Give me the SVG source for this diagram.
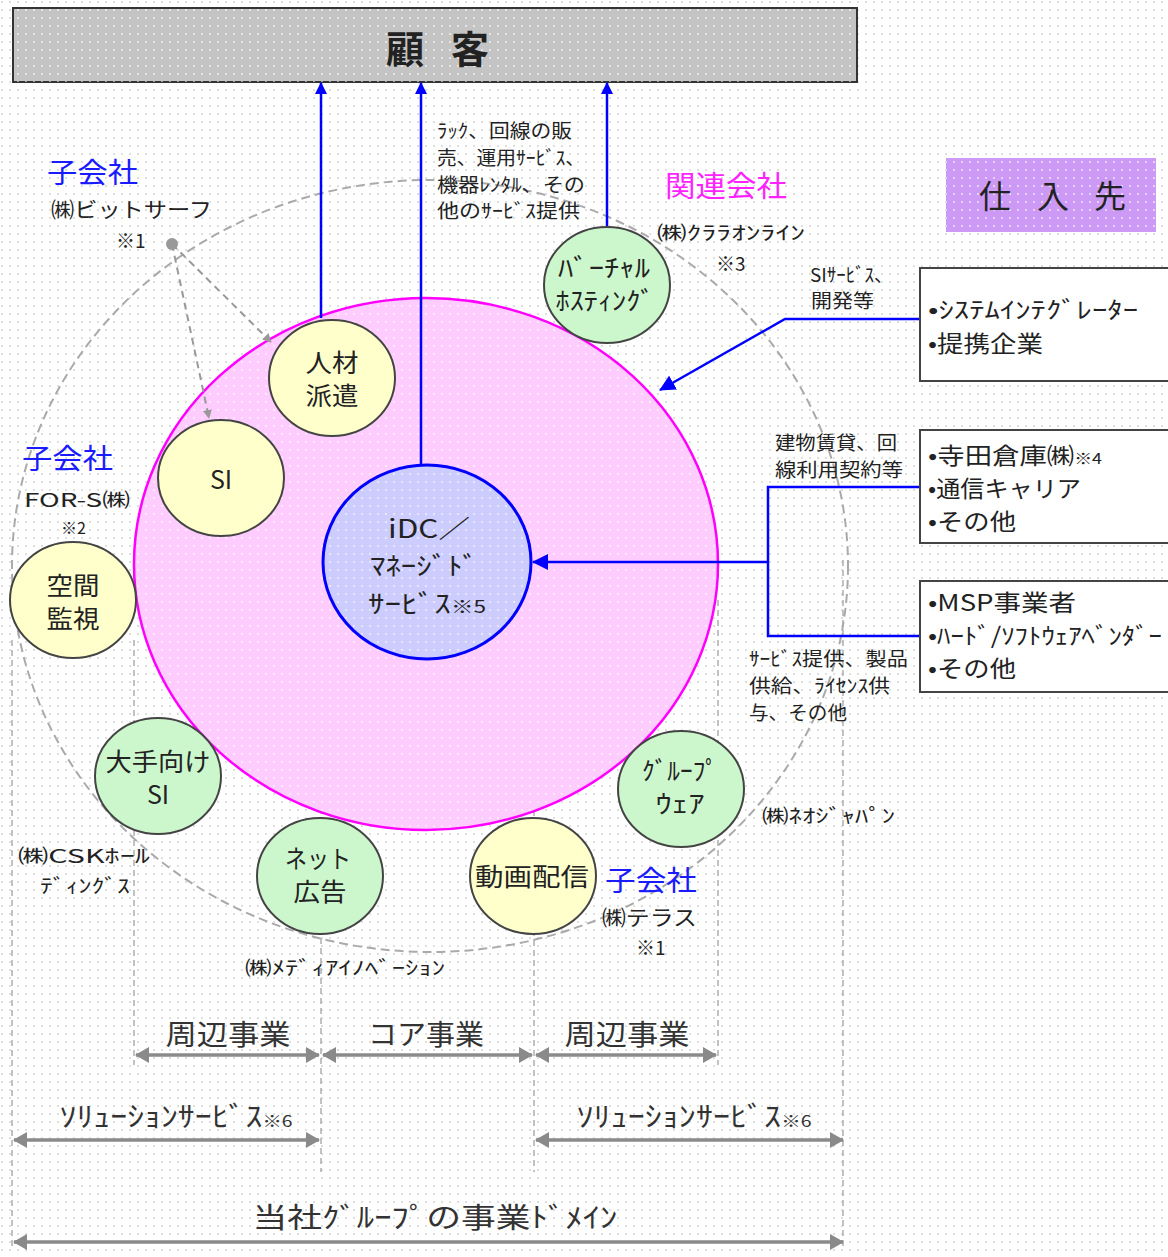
<svg xmlns="http://www.w3.org/2000/svg" width="1168" height="1257" viewBox="0 0 1168 1257">
<defs>
<pattern id="dots" width="8" height="8" patternUnits="userSpaceOnUse"><circle cx="2" cy="2" r="0.9" fill="#cfcfcf"/></pattern>
<pattern id="wdots" width="8" height="8" patternUnits="userSpaceOnUse"><circle cx="2" cy="2" r="0.9" fill="#ffffff" fill-opacity="0.8"/></pattern>
<marker id="ab" viewBox="0 0 12 12" refX="11" refY="6" markerWidth="12" markerHeight="12" markerUnits="userSpaceOnUse" orient="auto"><path d="M0,0 L12,6 L0,12 z" fill="#0000ff"/></marker>
<marker id="ab2" viewBox="0 0 16 16" refX="15" refY="8" markerWidth="16" markerHeight="16" markerUnits="userSpaceOnUse" orient="auto"><path d="M0,0 L16,8 L0,16 z" fill="#0000ff"/></marker>
<marker id="ag" viewBox="0 0 10 10" refX="9" refY="5" markerWidth="9" markerHeight="9" markerUnits="userSpaceOnUse" orient="auto"><path d="M0,0 L10,5 L0,10 z" fill="#999"/></marker>
<marker id="gh" viewBox="0 0 14 16" refX="13" refY="8" markerWidth="14" markerHeight="16" markerUnits="userSpaceOnUse" orient="auto-start-reverse"><path d="M0,0 L14,8 L0,16 z" fill="#8a8a8a"/></marker>
</defs>
<style>
.t{font-family:"Noto Sans CJK JP","Noto Sans",sans-serif;fill:#222}
.s{font-size:19px}
.c{font-size:25px;text-anchor:middle}
.b{font-size:23px}
.blue{fill:#1a1aff;font-size:28px}
.mag{fill:#ff22ff;font-size:29px}
.bot{font-size:28px;text-anchor:middle;fill:#333}
.yel{fill:#ffffcc;stroke:#444;stroke-width:2}
.grn{fill:#ccf7cc;stroke:#444;stroke-width:2}
.vd{stroke:#9a9a9a;stroke-width:1.2;stroke-dasharray:6 4;fill:none}
.bl{stroke:#0000ff;stroke-width:2.5;fill:none}
.ga{stroke:#8a8a8a;stroke-width:3.5;fill:none;marker-start:url(#gh);marker-end:url(#gh)}
.box{fill:#ffffff;stroke:#444;stroke-width:2}
</style>
<rect width="1168" height="1257" fill="#ffffff"/>
<rect width="1168" height="1257" fill="url(#dots)"/>

<g id="guides">
<line class="vd" x1="12" y1="640" x2="12" y2="1250"/>
<line class="vd" x1="134" y1="640" x2="134" y2="1065"/>
<line class="vd" x1="321" y1="578" x2="321" y2="1172"/>
<line class="vd" x1="534" y1="580" x2="534" y2="1172"/>
<line class="vd" x1="718" y1="600" x2="718" y2="1065"/>
<line class="vd" x1="843" y1="560" x2="843" y2="1250"/>
<ellipse cx="430" cy="566" rx="418" ry="386" fill="none" stroke="#aaaaaa" stroke-width="2" stroke-dasharray="9 5"/>
</g>

<g id="customer">
<rect x="13" y="8" width="844" height="74" fill="#c4c4c4" stroke="#333" stroke-width="2"/>
<rect x="13" y="8" width="844" height="74" fill="url(#wdots)"/>
<text class="t" x="405" y="63" font-size="38" font-weight="bold" text-anchor="middle" fill="#111">顧</text>
<text class="t" x="470" y="63" font-size="38" font-weight="bold" text-anchor="middle" fill="#111">客</text>
</g>

<g id="domain">
<ellipse cx="426" cy="564" rx="292" ry="266" fill="#ffccff" stroke="#ff00ff" stroke-width="2.5"/>
<ellipse cx="426" cy="564" rx="290" ry="264" fill="url(#wdots)"/>
</g>

<g id="connectors">
<line class="bl" x1="321" y1="318" x2="321" y2="83" marker-end="url(#ab)"/>
<line class="bl" x1="421" y1="465" x2="421" y2="83" marker-end="url(#ab)"/>
<line class="bl" x1="607" y1="226" x2="607" y2="83" marker-end="url(#ab)"/>
<polyline class="bl" points="920,319 785,319 660,390" marker-end="url(#ab2)"/>
<polyline class="bl" points="920,487 768,487 768,636 920,636"/>
<line class="bl" x1="768" y1="562" x2="533" y2="562" marker-end="url(#ab2)"/>
<line x1="172" y1="244" x2="271" y2="342" stroke="#999" stroke-width="2" stroke-dasharray="7 5" marker-end="url(#ag)"/>
<line x1="172" y1="244" x2="209" y2="418" stroke="#999" stroke-width="2" stroke-dasharray="7 5" marker-end="url(#ag)"/>
<circle cx="172" cy="244" r="6" fill="#999"/>
</g>

<g id="n-jinzai"><ellipse class="yel" cx="332" cy="378" rx="63" ry="58"/><text class="t c" x="332" y="372" textLength="53" lengthAdjust="spacingAndGlyphs">人材</text><text class="t c" x="332" y="405" textLength="53" lengthAdjust="spacingAndGlyphs">派遣</text></g>
<g id="n-si"><ellipse class="yel" cx="221" cy="478" rx="63" ry="58"/><text class="t c" x="221" y="489" font-size="24">SI</text></g>
<g id="n-idc"><ellipse cx="427" cy="562" rx="104" ry="97" fill="#ccccff" stroke="#0000ff" stroke-width="3"/><ellipse cx="427" cy="562" rx="102" ry="95" fill="url(#wdots)"/>
<text class="t c" x="429" y="538" textLength="82" lengthAdjust="spacingAndGlyphs">iDC／</text><text class="t c" x="424" y="575" textLength="108" lengthAdjust="spacingAndGlyphs">ﾏﾈｰｼﾞﾄﾞ</text><text class="t c" x="427" y="613" textLength="118" lengthAdjust="spacingAndGlyphs">ｻｰﾋﾞｽ<tspan font-size="17">※5</tspan></text></g>
<g id="n-virtual"><ellipse class="grn" cx="607" cy="285" rx="63" ry="58"/><text class="t c" x="604" y="277" textLength="92" lengthAdjust="spacingAndGlyphs">ﾊﾞｰﾁｬﾙ</text><text class="t c" x="605" y="310" textLength="99" lengthAdjust="spacingAndGlyphs">ﾎｽﾃｨﾝｸﾞ</text></g>
<g id="n-kukan"><ellipse class="yel" cx="73" cy="600" rx="63" ry="58"/><text class="t c" x="73" y="595" textLength="53" lengthAdjust="spacingAndGlyphs">空間</text><text class="t c" x="73" y="628" textLength="53" lengthAdjust="spacingAndGlyphs">監視</text></g>
<g id="n-ootesi"><ellipse class="grn" cx="158" cy="776" rx="63" ry="58"/><text class="t c" x="158" y="771" textLength="105" lengthAdjust="spacingAndGlyphs">大手向け</text><text class="t c" x="158" y="804" font-size="24">SI</text></g>
<g id="n-net"><ellipse class="grn" cx="320" cy="876" rx="63" ry="58"/><text class="t c" x="318" y="868" textLength="66" lengthAdjust="spacingAndGlyphs">ネット</text><text class="t c" x="320" y="901" textLength="53" lengthAdjust="spacingAndGlyphs">広告</text></g>
<g id="n-douga"><ellipse class="yel" cx="533" cy="876" rx="63" ry="58"/><text class="t c" x="532" y="886" textLength="114" lengthAdjust="spacingAndGlyphs">動画配信</text></g>
<g id="n-group"><ellipse class="grn" cx="681" cy="789" rx="63" ry="58"/><text class="t c" x="680" y="780" textLength="76" lengthAdjust="spacingAndGlyphs">ｸﾞﾙｰﾌﾟ</text><text class="t c" x="680" y="813" textLength="49" lengthAdjust="spacingAndGlyphs">ｳｪｱ</text></g>

<g id="suppliers-title"><rect x="946" y="158" width="210" height="74" fill="#cc99f5"/><rect x="946" y="158" width="210" height="74" fill="url(#wdots)"/>
<text class="t" x="995" y="208" font-size="32" text-anchor="middle" fill="#111">仕</text><text class="t" x="1053" y="208" font-size="32" text-anchor="middle" fill="#111">入</text><text class="t" x="1110" y="208" font-size="32" text-anchor="middle" fill="#111">先</text></g>
<g id="s-si"><rect class="box" x="920" y="268" width="252" height="113"/><text class="t b" x="928" y="318" textLength="210" lengthAdjust="spacingAndGlyphs">•ｼｽﾃﾑｲﾝﾃｸﾞﾚｰﾀｰ</text><text class="t b" x="928" y="352" textLength="115" lengthAdjust="spacingAndGlyphs">•提携企業</text></g>
<g id="s-terada"><rect class="box" x="920" y="430" width="252" height="113"/><text class="t b" x="928" y="464" textLength="174" lengthAdjust="spacingAndGlyphs">•寺田倉庫㈱<tspan font-size="15">※4</tspan></text><text class="t b" x="928" y="497" textLength="153" lengthAdjust="spacingAndGlyphs">•通信キャリア</text><text class="t b" x="928" y="530" textLength="88" lengthAdjust="spacingAndGlyphs">•その他</text></g>
<g id="s-msp"><rect class="box" x="920" y="581" width="252" height="111"/><text class="t b" x="928" y="611" textLength="148" lengthAdjust="spacingAndGlyphs">•MSP事業者</text><text class="t b" x="928" y="644" textLength="234" lengthAdjust="spacingAndGlyphs">•ﾊｰﾄﾞ/ｿﾌﾄｳｪｱﾍﾞﾝﾀﾞｰ</text><text class="t b" x="928" y="677" textLength="88" lengthAdjust="spacingAndGlyphs">•その他</text></g>

<g id="labels">
<text class="t s" x="437" y="138" textLength="135" lengthAdjust="spacingAndGlyphs">ﾗｯｸ、回線の販</text>
<text class="t s" x="437" y="165" textLength="148" lengthAdjust="spacingAndGlyphs">売、運用ｻｰﾋﾞｽ、</text>
<text class="t s" x="437" y="192" textLength="148" lengthAdjust="spacingAndGlyphs">機器ﾚﾝﾀﾙ、その</text>
<text class="t s" x="437" y="218" textLength="143" lengthAdjust="spacingAndGlyphs">他のｻｰﾋﾞｽ提供</text>
<text class="t blue" x="47" y="183" textLength="91" lengthAdjust="spacingAndGlyphs">子会社</text>
<text class="t" x="51" y="217" font-size="21" textLength="161" lengthAdjust="spacingAndGlyphs">㈱ビットサーフ</text>
<text class="t s" x="116" y="248">※1</text>
<text class="t mag" x="665" y="197" textLength="122" lengthAdjust="spacingAndGlyphs">関連会社</text>
<text class="t s" x="657" y="240" textLength="148" lengthAdjust="spacingAndGlyphs">㈱ｸﾗﾗｵﾝﾗｲﾝ</text>
<text class="t s" x="716" y="271">※3</text>
<text class="t s" x="810" y="282" textLength="83" lengthAdjust="spacingAndGlyphs">SIｻｰﾋﾞｽ、</text>
<text class="t s" x="811" y="308" textLength="63" lengthAdjust="spacingAndGlyphs">開発等</text>
<text class="t s" x="775" y="450" textLength="122" lengthAdjust="spacingAndGlyphs">建物賃貸、回</text>
<text class="t s" x="775" y="477" textLength="128" lengthAdjust="spacingAndGlyphs">線利用契約等</text>
<text class="t s" x="749" y="666" textLength="159" lengthAdjust="spacingAndGlyphs">ｻｰﾋﾞｽ提供、製品</text>
<text class="t s" x="749" y="693" textLength="141" lengthAdjust="spacingAndGlyphs">供給、ﾗｲｾﾝｽ供</text>
<text class="t s" x="749" y="720" textLength="98" lengthAdjust="spacingAndGlyphs">与、その他</text>
<text class="t blue" x="22" y="469" textLength="91" lengthAdjust="spacingAndGlyphs">子会社</text>
<text class="t" x="24" y="507" font-size="19" textLength="106" lengthAdjust="spacingAndGlyphs">FOR-S㈱</text>
<text class="t" x="61" y="534" font-size="16">※2</text>
<text class="t s" x="18" y="863" textLength="132" lengthAdjust="spacingAndGlyphs">㈱CSKﾎｰﾙ</text>
<text class="t s" x="40" y="893" textLength="90" lengthAdjust="spacingAndGlyphs">ﾃﾞｨﾝｸﾞｽ</text>
<text class="t s" x="245" y="975" textLength="200" lengthAdjust="spacingAndGlyphs">㈱ﾒﾃﾞｨｱｲﾉﾍﾞｰｼｮﾝ</text>
<text class="t s" x="762" y="823" textLength="133" lengthAdjust="spacingAndGlyphs">㈱ﾈｵｼﾞｬﾊﾟﾝ</text>
<text class="t blue" x="605" y="891" textLength="92" lengthAdjust="spacingAndGlyphs">子会社</text>
<text class="t" x="602" y="925" font-size="21" textLength="95" lengthAdjust="spacingAndGlyphs">㈱テラス</text>
<text class="t s" x="636" y="955">※1</text>
</g>

<g id="ranges">
<line class="ga" x1="136" y1="1055" x2="319" y2="1055"/>
<line class="ga" x1="323" y1="1055" x2="532" y2="1055"/>
<line class="ga" x1="536" y1="1055" x2="716" y2="1055"/>
<line class="ga" x1="14" y1="1140" x2="319" y2="1140"/>
<line class="ga" x1="536" y1="1140" x2="843" y2="1140"/>
<line class="ga" x1="14" y1="1242" x2="843" y2="1242"/>
<text class="t bot" x="228" y="1045" textLength="125" lengthAdjust="spacingAndGlyphs">周辺事業</text>
<text class="t bot" x="426" y="1045" textLength="116" lengthAdjust="spacingAndGlyphs">コア事業</text>
<text class="t bot" x="627" y="1045" textLength="125" lengthAdjust="spacingAndGlyphs">周辺事業</text>
<text class="t bot" x="176" y="1127" font-size="24" textLength="233" lengthAdjust="spacingAndGlyphs">ｿﾘｭｰｼｮﾝｻｰﾋﾞｽ<tspan font-size="16">※6</tspan></text>
<text class="t bot" x="694" y="1127" font-size="24" textLength="235" lengthAdjust="spacingAndGlyphs">ｿﾘｭｰｼｮﾝｻｰﾋﾞｽ<tspan font-size="16">※6</tspan></text>
<text class="t bot" x="435" y="1228" textLength="365" lengthAdjust="spacingAndGlyphs">当社ｸﾞﾙｰﾌﾟの事業ﾄﾞﾒｲﾝ</text>
</g>
</svg>
